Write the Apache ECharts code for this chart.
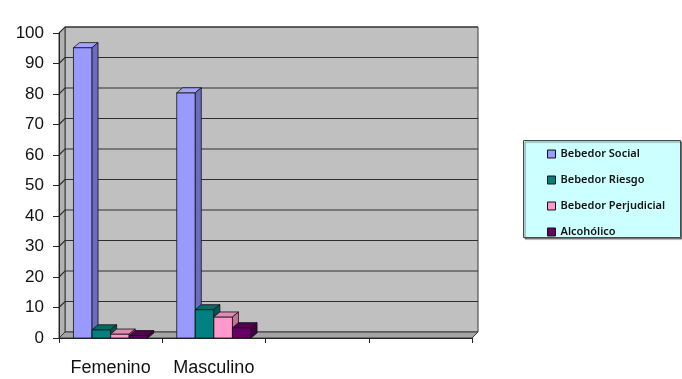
<!DOCTYPE html>
<html>
<head>
<meta charset="utf-8">
<title>Bebedores por sexo</title>
<script src="https://cdn.jsdelivr.net/npm/echarts@6/dist/echarts.min.js"></script>
<style>
  html, body { margin: 0; padding: 0; background: #ffffff; }
  #chart { width: 682px; height: 379px; }
</style>
</head>
<body>
<div id="chart"></div>
<script>
// Categories on the x axis (the last two slots are empty)
const categories = ['Femenino', 'Masculino', '', ''];

// Series names and values (%), one value per category
const seriesNames = ['Bebedor Social', 'Bebedor Riesgo', 'Bebedor Perjudicial', 'Alcohólico'];
const bebedorSocial = [95.2, 80.4];
const bebedorRiesgo = [2.7, 9.3];
const bebedorPerjudicial = [1.3, 6.9];
const alcoholico = [0.8, 3.4];

// Value axis ticks
const yTicks = [0, 10, 20, 30, 40, 50, 60, 70, 80, 90, 100];

// Face colours: front, top, side
const palette = [
  ['#9999ff', '#a4a4ff', '#6b6bc0'],
  ['#008080', '#006b6b', '#005656'],
  ['#ff99cc', '#e08ab4', '#c27398'],
  ['#660066', '#520052', '#420042']
];

const DEPTH_X = 6, DEPTH_Y = 6;   // wall depth
const BAR_DX = 6, BAR_DY = 5;     // bar depth
const BAR_RATIO = 0.18;           // bar width as share of a category band

const chart = echarts.init(document.getElementById('chart'), null, { renderer: 'canvas' });

// Back wall, left wall and floor of the plot box
function wallItem(params, api) {
  const cs = params.coordSys;
  const x0 = cs.x, x1 = cs.x + cs.width;
  const yTop = api.coord([0, yTicks[yTicks.length - 1]])[1];
  const yBot = api.coord([0, yTicks[0]])[1];
  const line = { stroke: '#3a3a3a', lineWidth: 1 };
  return {
    type: 'group',
    children: [
      { type: 'rect', shape: { x: x0 + DEPTH_X, y: yTop - DEPTH_Y, width: x1 - x0, height: yBot - yTop },
        style: Object.assign({ fill: '#c0c0c0' }, line) },
      { type: 'polygon', shape: { points: [[x0, yBot], [x0, yTop], [x0 + DEPTH_X, yTop - DEPTH_Y], [x0 + DEPTH_X, yBot - DEPTH_Y]] },
        style: Object.assign({ fill: '#b2b2b2' }, line) },
      { type: 'polygon', shape: { points: [[x0, yBot], [x1, yBot], [x1 + DEPTH_X, yBot - DEPTH_Y], [x0 + DEPTH_X, yBot - DEPTH_Y]] },
        style: Object.assign({ fill: '#a4a4a4' }, line) }
    ]
  };
}

// Gridlines bent across the left wall onto the back wall
function gridItem(params, api) {
  const cs = params.coordSys;
  const x0 = cs.x, x1 = cs.x + cs.width;
  const y = api.coord([0, api.value(1)])[1];
  return {
    type: 'polyline',
    shape: { points: [[x0, y], [x0 + DEPTH_X, y - DEPTH_Y], [x1 + DEPTH_X, y - DEPTH_Y]] },
    style: { stroke: '#2e2e2e', lineWidth: 1.2, fill: null }
  };
}

// 3D-looking clustered bar
function barRenderer(idx) {
  const cols = palette[idx];
  return function (params, api) {
    const cat = api.value(0), v = api.value(1);
    const band = api.size([1, 0])[0];
    const bw = band * BAR_RATIO;
    const base = api.coord([cat, 0]);
    const top = api.coord([cat, v]);
    const x0 = base[0] - 2 * bw + idx * bw;
    const x1 = x0 + bw;
    const yb = base[1], yt = top[1];
    const edge = { stroke: '#111', lineWidth: 0.8, lineJoin: 'round' };
    return {
      type: 'group',
      children: [
        { type: 'polygon', shape: { points: [[x0, yt], [x1, yt], [x1, yb], [x0, yb]] },
          style: Object.assign({ fill: cols[0] }, edge) },
        { type: 'polygon', shape: { points: [[x0, yt], [x1, yt], [x1 + BAR_DX, yt - BAR_DY], [x0 + BAR_DX, yt - BAR_DY]] },
          style: Object.assign({ fill: cols[1] }, edge) },
        { type: 'polygon', shape: { points: [[x1, yt], [x1 + BAR_DX, yt - BAR_DY], [x1 + BAR_DX, yb - BAR_DY], [x1, yb]] },
          style: Object.assign({ fill: cols[2] }, edge) }
      ]
    };
  };
}

const seriesValues = [bebedorSocial, bebedorRiesgo, bebedorPerjudicial, alcoholico];

const barSeries = seriesValues.map(function (vals, i) {
  return {
    name: seriesNames[i],
    type: 'custom',
    coordinateSystem: 'cartesian2d',
    renderItem: barRenderer(i),
    itemStyle: { color: palette[i][0] },
    encode: { x: 0, y: 1 },
    data: vals.map(function (v, c) { return [c, v]; }),
    z: 3
  };
});

chart.setOption({
  animation: false,
  backgroundColor: '#ffffff',
  grid: { left: 59, right: 210, top: 33, bottom: 41, containLabel: false },
  xAxis: {
    type: 'category',
    data: categories,
    boundaryGap: true,
    z: 10,
    axisLine: { show: true, lineStyle: { color: '#222', width: 1 } },
    axisTick: { show: true, length: 5, interval: 0, alignWithLabel: false, lineStyle: { color: '#222' } },
    axisLabel: { color: '#111', fontFamily: 'Liberation Sans', fontSize: 18, margin: 21, interval: 0, hideOverlap: false },
    splitLine: { show: false }
  },
  yAxis: {
    type: 'value',
    min: 0,
    max: 100,
    interval: 10,
    z: 10,
    axisLine: { show: true, lineStyle: { color: '#222', width: 1 } },
    axisTick: { show: true, length: 6, lineStyle: { color: '#222' } },
    axisLabel: { color: '#111', fontFamily: 'Liberation Sans', fontSize: 17, margin: 15 },
    splitLine: { show: false }
  },
  legend: {
    data: seriesNames,
    orient: 'vertical',
    left: 547,
    top: 147,
    padding: 0,
    itemWidth: 8,
    itemHeight: 8,
    itemGap: 12,
    icon: 'rect',
    itemStyle: { borderColor: '#111', borderWidth: 1 },
    textStyle: { fontFamily: 'Noto Sans', fontSize: 11, fontWeight: 600, color: '#111', lineHeight: 14 },
    selectedMode: false
  },
  graphic: [
    {
      type: 'rect',
      left: 523, top: 140,
      shape: { width: 157, height: 97 },
      style: { fill: '#ccffff', stroke: '#4a4a4a', lineWidth: 1,
               shadowColor: 'rgba(0,0,0,0.45)', shadowOffsetX: 1.5, shadowOffsetY: 1.5, shadowBlur: 1 },
      z: -1
    }
  ],
  series: [
    {
      name: 'walls',
      type: 'custom',
      coordinateSystem: 'cartesian2d',
      renderItem: wallItem,
      encode: { x: 0, y: 1 },
      data: [[0, 0]],
      silent: true,
      z: 1
    },
    {
      name: 'gridlines',
      type: 'custom',
      coordinateSystem: 'cartesian2d',
      renderItem: gridItem,
      encode: { x: 0, y: 1 },
      data: yTicks.slice(1).map(function (t) { return [0, t]; }),
      silent: true,
      z: 2
    }
  ].concat(barSeries)
});
</script>
</body>
</html>
